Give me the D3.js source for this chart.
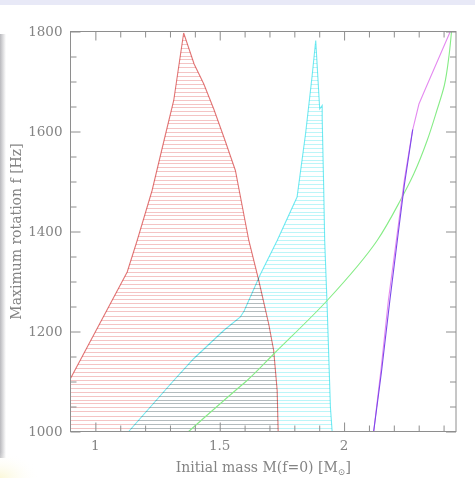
<!DOCTYPE html>
<html>
<head>
<meta charset="utf-8">
<script src="https://cdn.jsdelivr.net/npm/d3@7/dist/d3.min.js"></script>
<style>
  html, body { margin: 0; padding: 0; background: #ffffff; }
  svg { display: block; }
  text { font-family: "DejaVu Serif", serif; fill: #848484; }
</style>
</head>
<body>
<script>
// Axis ticks
const massMajorTicks = [1, 1.5, 2];
const massMinorTicks = [1.1, 1.2, 1.3, 1.4, 1.6, 1.7, 1.8, 1.9, 2.1, 2.2, 2.3, 2.4];
const freqMajorTicks = [1000, 1200, 1400, 1600, 1800];
const freqMinorTicks = [1050, 1100, 1150, 1250, 1300, 1350, 1450, 1500, 1550, 1650, 1700, 1750];
const massTickLabels = ["1", "1.5", "2"];
const freqTickLabels = ["1000", "1200", "1400", "1600", "1800"];

// Red allowed region: left and right boundaries (mass, frequency)
const redLeftMass  = [0.9, 1.128, 1.168, 1.228, 1.275, 1.315, 1.355];
const redLeftFreq  = [1106, 1319, 1382, 1482, 1580, 1662, 1797];
const redRightMass = [1.355, 1.397, 1.436, 1.476, 1.520, 1.563, 1.617, 1.657, 1.697, 1.717, 1.731, 1.735];
const redRightFreq = [1797, 1735, 1695, 1645, 1584, 1522, 1382, 1302, 1215, 1162, 1082, 1000];

// Cyan allowed region
const cyanLeftMass  = [1.134, 1.315, 1.396, 1.516, 1.583, 1.598, 1.664, 1.731, 1.811, 1.845, 1.871, 1.886];
const cyanLeftFreq  = [1000, 1102, 1146, 1202, 1229, 1241, 1315, 1382, 1469, 1595, 1709, 1782];
const cyanRightMass = [1.886, 1.902, 1.912, 1.912, 1.918, 1.922, 1.932, 1.945, 1.952];
const cyanRightFreq = [1782, 1645, 1652, 1626, 1489, 1382, 1249, 1049, 1000];

// Green curve
const greenMass = [1.375, 1.563, 1.610, 1.717, 1.932, 2.133, 2.226, 2.280, 2.334, 2.373, 2.403, 2.422, 2.432];
const greenFreq = [1000, 1082, 1102, 1155, 1262, 1382, 1462, 1515, 1582, 1642, 1692, 1752, 1800];

// Magenta curve
const magentaMass = [2.119, 2.148, 2.178, 2.210, 2.242, 2.275, 2.301, 2.325, 2.427];
const magentaFreq = [1000, 1122, 1262, 1382, 1502, 1602, 1655, 1683, 1800];

// Blue curve
const blueMass = [2.119, 2.151, 2.184, 2.214, 2.242, 2.276];
const blueFreq = [1000, 1122, 1262, 1382, 1492, 1604];

// Hatch line spacing (Hz)
const hatchStep = 8;

const W = 475, H = 478;
const pL = 70.5, pR = 456, pT = 31.5, pB = 431.5;

const x = d3.scaleLinear().domain([0.9, 2.45]).range([pL, pR]);
const y = d3.scaleLinear().domain([1000, 1800]).range([pB, pT]);

const svg = d3.select("body").append("svg")
  .attr("width", W).attr("height", H);

const defs = svg.append("defs");

// page backdrop
const shade = defs.append("linearGradient").attr("id", "leftShade")
  .attr("x1", 0).attr("x2", 1).attr("y1", 0).attr("y2", 0);
shade.append("stop").attr("offset", 0).attr("stop-color", "#b9b9bd");
shade.append("stop").attr("offset", 1).attr("stop-color", "#ffffff");
const corner = defs.append("radialGradient").attr("id", "cornerTint")
  .attr("cx", 0).attr("cy", 1).attr("r", 1);
corner.append("stop").attr("offset", 0).attr("stop-color", "#fbf8d8");
corner.append("stop").attr("offset", 1).attr("stop-color", "#ffffff").attr("stop-opacity", 0);
svg.append("rect").attr("x", 0).attr("y", 0).attr("width", W).attr("height", 5).attr("fill", "#e8e9f7");
svg.append("rect").attr("x", 0).attr("y", 34).attr("width", 6).attr("height", 424).attr("fill", "url(#leftShade)");
svg.append("rect").attr("x", 0).attr("y", 452).attr("width", 40).attr("height", 26).attr("fill", "url(#cornerTint)");

// plot clip
defs.append("clipPath").attr("id", "plotClip")
  .append("rect").attr("x", pL).attr("y", pT)
  .attr("width", pR - pL).attr("height", pB - pT);

const zip = (ms, fs) => ms.map((m, i) => [m, fs[i]]);
const lineGen = d3.line().x(d => x(d[0])).y(d => y(d[1]));
const smoothGen = d3.line().x(d => x(d[0])).y(d => y(d[1])).curve(d3.curveMonotoneY);

const plot = svg.append("g").attr("clip-path", "url(#plotClip)");

function region(id, lm, lf, rm, rf, outline, hatch) {
  const leftEdge = zip(lm, lf);
  const rightEdge = zip(rm, rf);
  // closed polygon: left edge up, right edge down, back along the bottom / frame
  const poly = [[lm[0], 1000]].concat(leftEdge, rightEdge);
  defs.append("clipPath").attr("id", id)
    .append("path").attr("d", lineGen(poly) + "Z");
  const freqs = d3.range(1000, 1800 + 0.01, hatchStep);
  const g = plot.append("g").attr("clip-path", `url(#${id})`)
    .style("mix-blend-mode", "multiply");
  g.selectAll("line").data(freqs).join("line")
    .attr("x1", pL).attr("x2", pR)
    .attr("y1", d => Math.round(y(d)) + 0.5).attr("y2", d => Math.round(y(d)) + 0.5)
    .attr("stroke", hatch).attr("stroke-width", 1);
  plot.append("path")
    .attr("d", lineGen(leftEdge.concat(rightEdge)))
    .attr("fill", "none").attr("stroke", outline).attr("stroke-width", 1.1)
    .style("mix-blend-mode", "multiply");
}

region("redRegion", redLeftMass, redLeftFreq, redRightMass, redRightFreq, "#e27676", "#f4c4c4");
region("cyanRegion", cyanLeftMass, cyanLeftFreq, cyanRightMass, cyanRightFreq, "#72eaf2", "#bcf5f8");

plot.append("path").attr("d", smoothGen(zip(greenMass, greenFreq)))
  .attr("fill", "none").attr("stroke", "#86ec86").attr("stroke-width", 1.1);
plot.append("path").attr("d", lineGen(zip(magentaMass, magentaFreq)))
  .attr("fill", "none").attr("stroke", "#e48af0").attr("stroke-width", 1.1);
plot.append("path").attr("d", lineGen(zip(blueMass, blueFreq)))
  .attr("fill", "none").attr("stroke", "#7c48ea").attr("stroke-width", 1.1);

// frame and ticks
const axisColor = "#8e8e8e";
function styleAxis(g) {
  g.select(".domain").remove();
  g.selectAll(".tick line").attr("stroke", axisColor);
  g.selectAll(".tick text").remove();
}
svg.append("g").attr("transform", `translate(0,${pB})`)
  .call(d3.axisBottom(x).tickValues(massMajorTicks).tickSize(-9)).call(styleAxis);
svg.append("g").attr("transform", `translate(0,${pB})`)
  .call(d3.axisBottom(x).tickValues(massMinorTicks).tickSize(-6)).call(styleAxis);
svg.append("g").attr("transform", `translate(0,${pT})`)
  .call(d3.axisTop(x).tickValues(massMajorTicks).tickSize(-9)).call(styleAxis);
svg.append("g").attr("transform", `translate(0,${pT})`)
  .call(d3.axisTop(x).tickValues(massMinorTicks).tickSize(-6)).call(styleAxis);
svg.append("g").attr("transform", `translate(${pL},0)`)
  .call(d3.axisLeft(y).tickValues(freqMajorTicks).tickSize(-10)).call(styleAxis);
svg.append("g").attr("transform", `translate(${pL},0)`)
  .call(d3.axisLeft(y).tickValues(freqMinorTicks).tickSize(-6)).call(styleAxis);
svg.append("g").attr("transform", `translate(${pR},0)`)
  .call(d3.axisRight(y).tickValues(freqMajorTicks).tickSize(-10)).call(styleAxis);
svg.append("g").attr("transform", `translate(${pR},0)`)
  .call(d3.axisRight(y).tickValues(freqMinorTicks).tickSize(-6)).call(styleAxis);

svg.append("rect").attr("x", pL).attr("y", pT)
  .attr("width", pR - pL).attr("height", pB - pT)
  .attr("fill", "none").attr("stroke", axisColor).attr("stroke-width", 1);

// tick labels
svg.append("g").selectAll("text").data(massMajorTicks).join("text")
  .attr("x", d => x(d)).attr("y", 450)
  .attr("text-anchor", "middle").attr("font-size", 13.5)
  .text((d, i) => massTickLabels[i]);
svg.append("g").selectAll("text").data(freqMajorTicks).join("text")
  .attr("x", pL - 8).attr("y", d => y(d))
  .attr("dy", "0.36em")
  .attr("text-anchor", "end").attr("font-size", 13.5)
  .text((d, i) => freqTickLabels[i]);

// axis titles
const xt = svg.append("text")
  .attr("x", (pL + pR) / 2).attr("y", 472)
  .attr("text-anchor", "middle").attr("font-size", 14);
xt.append("tspan").text("Initial mass M(f=0) [M");
xt.append("tspan").attr("font-size", 9).attr("dy", 3).text("\u2299");
xt.append("tspan").attr("dy", -3).text("]");

svg.append("text")
  .attr("transform", `translate(21,${(pT + pB) / 2}) rotate(-90)`)
  .attr("text-anchor", "middle").attr("font-size", 14)
  .text("Maximum rotation f [Hz]");
</script>
</body>
</html>
